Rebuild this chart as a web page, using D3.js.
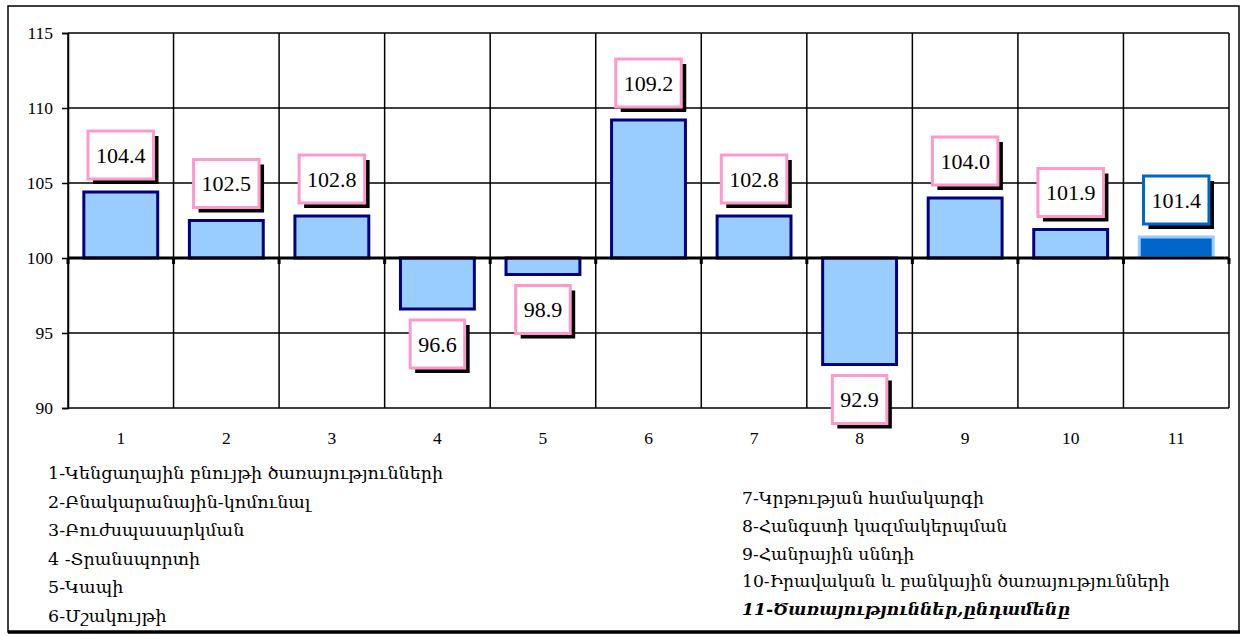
<!DOCTYPE html>
<html>
<head>
<meta charset="utf-8">
<script src="https://cdn.jsdelivr.net/npm/d3@7"></script>
<style>
  body { margin: 0; background: #fff; }
  svg { display: block; }
  .num { font-family: "Liberation Serif", "Times New Roman", serif; }
  .arm { font-family: "DejaVu Serif", "Noto Serif", serif; }
</style>
</head>
<body>
<svg width="1242" height="636"></svg>
<script>
let categories = ["1", "2", "3", "4", "5", "6", "7", "8", "9", "10", "11"];
let values = [104.4, 102.5, 102.8, 96.6, 98.9, 109.2, 102.8, 92.9, 104.0, 101.9, 101.4];
let y_ticks = [90, 95, 100, 105, 110, 115];
let legend_left = [
    "1-Կենցաղային բնույթի ծառայությունների",
    "2-Բնակարանային-կոմունալ",
    "3-Բուժսպասարկման",
    "4 -Տրանսպորտի",
    "5-Կապի",
    "6-Մշակույթի"
];
let legend_right = [
    "7-Կրթության համակարգի",
    "8-Հանգստի կազմակերպման",
    "9-Հանրային սննդի",
    "10-Իրավական և բանկային ծառայությունների",
    "11-Ծառայություններ,ընդամենը"
];

let svg = d3.select('svg');

// outer frame
svg.append('rect')
    .attr('x', 8).attr('y', 6)
    .attr('width', 1231).attr('height', 626)
    .attr('fill', 'none')
    .attr('stroke', 'black')
    .attr('stroke-width', 1.5);
svg.append('line')
    .attr('x1', 8).attr('x2', 1240)
    .attr('y1', 632).attr('y2', 632)
    .attr('stroke', 'black')
    .attr('stroke-width', 3.5);

let x = d3.scaleBand().domain(categories).range([68, 1229]).padding(0);
let y = d3.scaleLinear().domain([90, 115]).range([408, 33]);
let bw = x.bandwidth();

// horizontal grid
svg.append('g')
    .selectAll('line')
    .data(y_ticks)
    .join('line')
    .attr('x1', 68).attr('x2', 1229)
    .attr('y1', function (d) { return y(d); })
    .attr('y2', function (d) { return y(d); })
    .attr('stroke', 'black')
    .attr('stroke-width', 1.5);

// vertical grid (category boundaries)
let bounds = categories.map(function (c) { return x(c); }).concat([x(categories[10]) + bw]);
svg.append('g')
    .selectAll('line')
    .data(bounds)
    .join('line')
    .attr('x1', function (d) { return d; })
    .attr('x2', function (d) { return d; })
    .attr('y1', y(115)).attr('y2', y(90))
    .attr('stroke', 'black')
    .attr('stroke-width', 1.5);

// y axis
let yAxis = svg.append('g')
    .attr('transform', 'translate(68,0)')
    .call(d3.axisLeft(y).tickValues(y_ticks).tickSize(6).tickPadding(9));
yAxis.attr('font-family', null).attr('font-size', null);
yAxis.select('.domain').attr('stroke', 'black').attr('stroke-width', 1.5);
yAxis.selectAll('.tick line').attr('stroke', 'black').attr('stroke-width', 1.5);
yAxis.selectAll('.tick text')
    .attr('class', 'num')
    .style('font-size', '17.5px')
    .attr('fill', 'black');

// bars
svg.append('g')
    .selectAll('rect')
    .data(values)
    .join('rect')
    .attr('x', function (d, i) { return x(categories[i]) + bw * 0.15; })
    .attr('width', bw * 0.7)
    .attr('y', function (d) { return Math.min(y(d), y(100)); })
    .attr('height', function (d) { return Math.abs(y(d) - y(100)); })
    .attr('fill', function (d, i) { return i == 10 ? '#0066CC' : '#99CCFF'; })
    .attr('stroke', function (d, i) { return i == 10 ? '#99CCFF' : '#000080'; })
    .attr('stroke-width', 3);

// baseline at 100 and small ticks
svg.append('line')
    .attr('x1', 68).attr('x2', 1229)
    .attr('y1', y(100)).attr('y2', y(100))
    .attr('stroke', 'black')
    .attr('stroke-width', 3);
svg.append('g')
    .selectAll('line')
    .data(bounds)
    .join('line')
    .attr('x1', function (d) { return d; })
    .attr('x2', function (d) { return d; })
    .attr('y1', y(100)).attr('y2', y(100) + 6)
    .attr('stroke', 'black')
    .attr('stroke-width', 3);

// category labels
svg.append('g')
    .selectAll('text')
    .data(categories)
    .join('text')
    .attr('class', 'num')
    .attr('x', function (d) { return x(d) + bw / 2; })
    .attr('y', 444)
    .attr('text-anchor', 'middle')
    .style('font-size', '17.5px')
    .text(function (d) { return d; });

// value labels in boxes with shadow
let lab = svg.append('g')
    .selectAll('g')
    .data(values)
    .join('g')
    .attr('transform', function (d, i) {
        let cy = d >= 100 ? y(d) - 37 : y(d) + 35;
        return 'translate(' + (x(categories[i]) + bw / 2) + ',' + cy + ')';
    });
lab.append('rect').attr('class', 'shadow');
lab.append('rect').attr('class', 'box');
lab.append('text')
    .attr('class', 'num')
    .attr('text-anchor', 'middle')
    .attr('dy', '0.35em')
    .style('font-size', '22px')
    .text(function (d) { return d.toFixed(1); });
lab.each(function (d, i) {
    let g = d3.select(this);
    let w = g.select('text').node().getComputedTextLength() + 16;
    let h = 48;
    g.select('.shadow')
        .attr('x', -w / 2 + 5).attr('y', -h / 2 + 5)
        .attr('width', w).attr('height', h)
        .attr('fill', 'black');
    g.select('.box')
        .attr('x', -w / 2).attr('y', -h / 2)
        .attr('width', w).attr('height', h)
        .attr('fill', 'white')
        .attr('stroke', i == 10 ? '#0066CC' : '#FF99CC')
        .attr('stroke-width', 3);
});

// legend
svg.append('g')
    .selectAll('text')
    .data(legend_left)
    .join('text')
    .attr('class', 'arm')
    .attr('x', 48)
    .attr('y', function (d, i) { return 479 + i * 28.6; })
    .style('font-size', '17.5px')
    .text(function (d) { return d; });

svg.append('g')
    .selectAll('text')
    .data(legend_right)
    .join('text')
    .attr('class', 'arm')
    .attr('x', 742)
    .attr('y', function (d, i) { return 504 + i * 27.8; })
    .style('font-size', '17.2px')
    .style('font-weight', function (d, i) { return i == 4 ? 'bold' : 'normal'; })
    .style('font-style', function (d, i) { return i == 4 ? 'italic' : 'normal'; })
    .text(function (d) { return d; });
</script>
</body>
</html>
